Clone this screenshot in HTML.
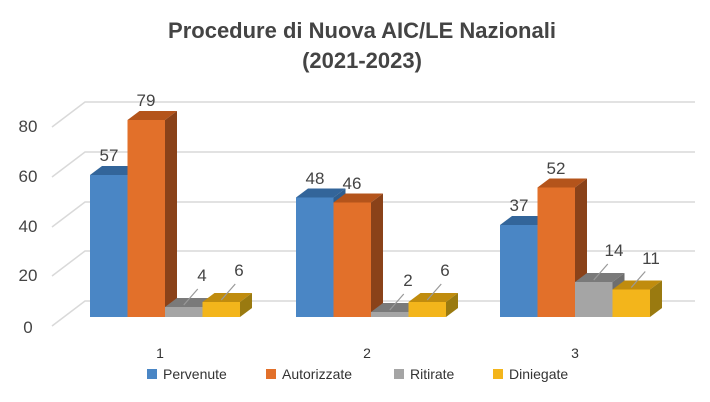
<!DOCTYPE html>
<html><head><style>
html,body{margin:0;padding:0;background:#fff;}
svg{display:block;font-family:"Liberation Sans",sans-serif;}
</style></head><body>
<svg width="710" height="402" viewBox="0 0 710 402">
<text x="362" y="38" text-anchor="middle" font-size="22" font-weight="bold" fill="#444">Procedure di  Nuova AIC/LE  Nazionali</text>
<text x="362" y="68" text-anchor="middle" font-size="22" font-weight="bold" fill="#444">(2021-2023)</text>
<g stroke="#d9d9d9" stroke-width="1.5" fill="none">
<polyline points="52,127 85,102 695,102"/>
<polyline points="52,177 85,152 695,152"/>
<polyline points="52,227 85,202 695,202"/>
<polyline points="52,276 85,251 695,251"/>
<polyline points="52,326 85,301 695,301"/>
</g>
<g font-size="17" fill="#444" text-anchor="middle">
<text x="28" y="132">80</text><text x="28" y="182">60</text><text x="28" y="232">40</text><text x="28" y="281">20</text><text x="28" y="333">0</text>
</g>
<!-- Group 1 -->
<polygon points="90,175 102,166 139.5,166 127.5,175" fill="#33659a"/>
<polygon points="127.5,175 139.5,166 139.5,308 127.5,317" fill="#2f5e8f"/>
<rect x="90" y="175" width="37.5" height="142" fill="#4a86c5"/>
<polygon points="127.5,120 139.5,111 177,111 165,120" fill="#b4541b"/>
<polygon points="165,120 177,111 177,308 165,317" fill="#8a4219"/>
<rect x="127.5" y="120" width="37.5" height="197" fill="#e2702a"/>
<polygon points="165,307 177,298 214.5,298 202.5,307" fill="#7a7a7a"/>
<polygon points="202.5,307 214.5,298 214.5,308 202.5,317" fill="#6e6e6e"/>
<rect x="165" y="307" width="37.5" height="10" fill="#a5a5a5"/>
<polygon points="202.5,302 214.5,293 252,293 240,302" fill="#c08c0e"/>
<polygon points="240,302 252,293 252,308 240,317" fill="#9a7a10"/>
<rect x="202.5" y="302" width="37.5" height="15" fill="#f3b51b"/>
<!-- Group 2 -->
<polygon points="296,197.5 308,188.5 345.5,188.5 333.5,197.5" fill="#33659a"/>
<polygon points="333.5,197.5 345.5,188.5 345.5,308 333.5,317" fill="#2f5e8f"/>
<rect x="296" y="197.5" width="37.5" height="119.5" fill="#4a86c5"/>
<polygon points="333.5,202.5 345.5,193.5 383,193.5 371,202.5" fill="#b4541b"/>
<polygon points="371,202.5 383,193.5 383,308 371,317" fill="#8a4219"/>
<rect x="333.5" y="202.5" width="37.5" height="114.5" fill="#e2702a"/>
<polygon points="371,312 383,303 420.5,303 408.5,312" fill="#7a7a7a"/>
<polygon points="408.5,312 420.5,303 420.5,308 408.5,317" fill="#6e6e6e"/>
<rect x="371" y="312" width="37.5" height="5" fill="#a5a5a5"/>
<polygon points="408.5,302 420.5,293 458,293 446,302" fill="#c08c0e"/>
<polygon points="446,302 458,293 458,308 446,317" fill="#9a7a10"/>
<rect x="408.5" y="302" width="37.5" height="15" fill="#f3b51b"/>
<!-- Group 3 -->
<polygon points="500,225 512,216 549.5,216 537.5,225" fill="#33659a"/>
<polygon points="537.5,225 549.5,216 549.5,308 537.5,317" fill="#2f5e8f"/>
<rect x="500" y="225" width="37.5" height="92" fill="#4a86c5"/>
<polygon points="537.5,187.5 549.5,178.5 587,178.5 575,187.5" fill="#b4541b"/>
<polygon points="575,187.5 587,178.5 587,308 575,317" fill="#8a4219"/>
<rect x="537.5" y="187.5" width="37.5" height="129.5" fill="#e2702a"/>
<polygon points="575,282 587,273 624.5,273 612.5,282" fill="#7a7a7a"/>
<polygon points="612.5,282 624.5,273 624.5,308 612.5,317" fill="#6e6e6e"/>
<rect x="575" y="282" width="37.5" height="35" fill="#a5a5a5"/>
<polygon points="612.5,289.5 624.5,280.5 662,280.5 650,289.5" fill="#c08c0e"/>
<polygon points="650,289.5 662,280.5 662,308 650,317" fill="#9a7a10"/>
<rect x="612.5" y="289.5" width="37.5" height="27.5" fill="#f3b51b"/>
<!-- leader lines -->
<g stroke="#999" stroke-width="1.2">
<line x1="183.75" y1="305" x2="197.75" y2="289"/>
<line x1="221.25" y1="300" x2="235.25" y2="284"/>
<line x1="389.75" y1="310" x2="403.75" y2="294"/>
<line x1="427.25" y1="300" x2="441.25" y2="284"/>
<line x1="593.75" y1="280" x2="607.75" y2="264"/>
<line x1="631.25" y1="287.5" x2="645.25" y2="271.5"/>
</g>
<g font-size="17" fill="#444" text-anchor="middle">
<text x="109" y="161">57</text><text x="146" y="106">79</text>
<text x="202" y="281">4</text><text x="239" y="276">6</text>
<text x="315" y="184">48</text><text x="352" y="189">46</text>
<text x="408" y="286">2</text><text x="445" y="276">6</text>
<text x="519" y="211">37</text><text x="556" y="174">52</text>
<text x="614" y="256">14</text><text x="651" y="264">11</text>
</g>
<g font-size="14" fill="#333" text-anchor="middle">
<text x="160" y="358">1</text><text x="367" y="358">2</text><text x="575" y="358">3</text>
</g>
<g font-size="14" fill="#333">
<rect x="147" y="369" width="10" height="10" fill="#4a86c5"/><text x="163" y="379">Pervenute</text>
<rect x="266" y="369" width="10" height="10" fill="#e2702a"/><text x="282" y="379">Autorizzate</text>
<rect x="394" y="369" width="10" height="10" fill="#a5a5a5"/><text x="410" y="379">Ritirate</text>
<rect x="493" y="369" width="10" height="10" fill="#f3b51b"/><text x="509" y="379">Diniegate</text>
</g>
</svg>
</body></html>
